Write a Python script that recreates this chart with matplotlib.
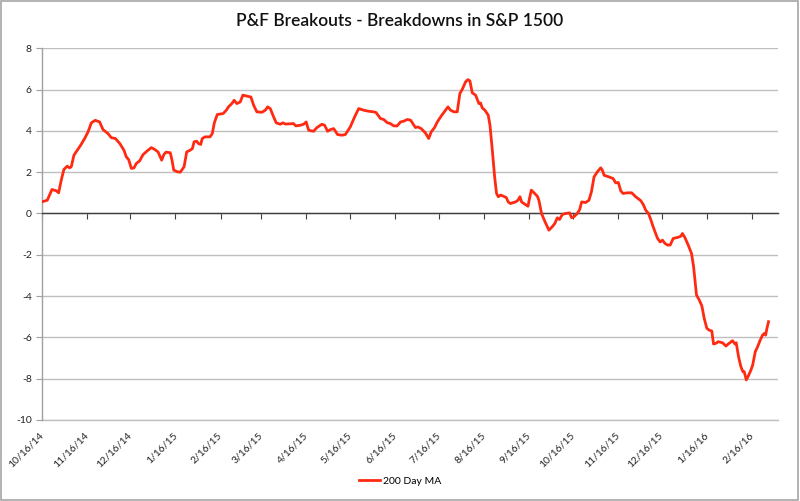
import numpy as np
import pandas as pd
import matplotlib
matplotlib.use('Agg')
import matplotlib.pyplot as plt
from matplotlib.patches import Rectangle

plt.rcParams['font.family'] = ['Lato', 'DejaVu Sans']

C_LINE = '#FF2A12'
C_GRID = '#C0C0C0'
C_AXIS = '#3F3F3F'

# series: days since 10/16/14 and 200 day MA value
start = pd.Timestamp('2014-10-16')
day_offset = [
    0, 3.9, 7.1, 10.1, 11.7, 13.5, 15.3, 17.6, 19.2, 20.4, 22.2, 24.5, 26.8, 29.6,
    31.9, 34.2, 36.9, 39.9, 42.2, 45.6, 47.9, 50.7, 53.7, 56.6, 58.2, 59.8, 61.7,
    63.5, 65.1, 67.4, 69.7, 73.1, 75.4, 77.7, 80.0, 82.5, 84.0, 85.5, 88.4, 89.6,
    90.8, 93.2, 95.3, 97.9, 99.7, 102.0, 103.6, 104.8, 106.6, 107.7, 109.3, 110.4,
    112.3, 115.7, 117.3, 118.7, 120.7, 124.8, 126.9, 128.4, 130.7, 132.3, 134.2,
    136.5, 138.3, 140.6, 143.8, 145.7, 147.9, 151.4, 153.7, 155.3, 157.1, 159.4,
    161.2, 164.0, 165.8, 167.4, 173.1, 174.7, 177.7, 180.0, 181.8, 183.5, 186.9,
    189.2, 192.6, 194.5, 196.5, 198.4, 200.7, 203.4, 206.4, 208.7, 212.1, 215.1,
    217.9, 221.3, 224.7, 228.2, 229.8, 232.8, 235.1, 237.4, 239.7, 242.0, 244.3,
    246.6, 248.9, 251.2, 253.5, 255.1, 256.9, 258.5, 260.8, 263.7, 266.0, 267.7,
    270.0, 271.9, 274.5, 277.5, 279.2, 281.0, 283.3, 285.6, 287.4, 289.0, 291.3,
    292.9, 294.3, 295.9, 298.2, 300.5, 301.6, 302.8, 304.6, 306.9, 308.1, 309.7,
    311.3, 312.6, 313.8, 315.4, 317.2, 319.3, 320.6, 322.2, 323.8, 325.7, 327.3,
    328.7, 329.8, 331.4, 334.2, 335.5, 336.5, 338.3, 340.6, 341.7, 343.5, 345.9,
    348.6, 350.9, 352.7, 354.3, 355.9, 357.8, 360.1, 362.8, 364.2, 365.8, 368.1,
    369.7, 371.1, 373.8, 376.1, 377.8, 379.6, 381.9, 384.2, 385.3, 386.5, 389.9,
    392.7, 394.5, 396.3, 397.9, 399.5, 402.5, 405.5, 408.2, 411.7, 413.3, 415.1,
    417.0, 418.6, 420.0, 421.5, 423.2, 425.0, 426.6, 428.3, 430.1, 431.9, 434.0,
    437.0, 439.3, 440.3, 442.0, 444.3, 446.6, 448.0, 449.1, 450.0, 451.9, 453.7,
    455.3, 457.1, 458.7, 460.5, 461.7, 463.3, 464.9, 467.9, 470.2, 471.8, 474.8,
    476.4, 477.3, 478.9, 480.5, 481.9, 482.8, 484.2, 485.6, 487.4, 488.6, 490.4,
    492.0, 493.8, 495.4, 496.6, 497.5, 498.4, 499.5,
]
ma200 = [
    0.56, 0.64, 1.16, 1.10, 1.00, 1.61, 2.13, 2.29, 2.21, 2.26, 2.82, 3.06, 3.30, 3.63,
    3.95, 4.39, 4.51, 4.43, 4.06, 3.87, 3.67, 3.63, 3.39, 3.06, 2.74, 2.61, 2.18,
    2.21, 2.42, 2.55, 2.85, 3.06, 3.19, 3.10, 2.98, 2.58, 2.85, 2.97, 2.94, 2.58,
    2.10, 2.02, 2.00, 2.26, 2.98, 3.06, 3.14, 3.47, 3.50, 3.39, 3.34, 3.63,
    3.71, 3.71, 3.87, 4.39, 4.79, 4.84, 5.00, 5.16, 5.32, 5.48, 5.32,
    5.40, 5.73, 5.69, 5.64, 5.24, 4.92, 4.90, 5.00, 5.16, 5.08, 4.68,
    4.39, 4.32, 4.39, 4.33, 4.35, 4.24, 4.27, 4.32, 4.43, 4.03, 3.98,
    4.16, 4.32, 4.27, 3.98, 4.06, 4.11, 3.82, 3.79, 3.82, 4.19, 4.68,
    5.08, 5.00, 4.95, 4.92, 4.89, 4.60, 4.55, 4.40, 4.35, 4.24, 4.24,
    4.43, 4.47, 4.55, 4.52, 4.35, 4.16, 4.19, 4.11, 3.90, 3.63, 3.95,
    4.16, 4.43, 4.71, 5.00, 5.16, 5.00, 4.92, 4.92, 5.81, 6.00, 6.37,
    6.48, 6.42, 5.84, 5.73, 5.32, 5.35, 5.11, 5.00, 4.76, 4.27, 3.06,
    1.77, 0.97, 0.81, 0.89, 0.84, 0.77, 0.56, 0.48, 0.52, 0.56, 0.64,
    0.81, 0.56, 0.48, 0.35, 0.81, 1.13, 1.00, 0.84, 0.64, 0.00, -0.40,
    -0.81, -0.64, -0.48, -0.21, -0.29, -0.05, 0.00, 0.03, -0.21, -0.16, 0.00,
    0.19, 0.56, 0.53, 0.64, 1.05, 1.77, 2.02, 2.21, 2.10, 1.85, 1.77,
    1.69, 1.48, 1.50, 1.10, 0.97, 1.00, 1.00, 0.81, 0.62, 0.45, 0.16,
    0.00, -0.30, -0.60, -0.89, -1.20, -1.38, -1.29, -1.45, -1.53, -1.53, -1.21,
    -1.16, -1.10, -0.97, -1.16, -1.53, -1.94, -2.58, -3.31, -3.95, -4.19, -4.48,
    -5.08, -5.56, -5.65, -5.69, -6.32, -6.29, -6.21, -6.26, -6.42, -6.32, -6.16,
    -6.32, -6.26, -6.94, -7.42, -7.66, -7.66, -8.06, -7.87, -7.58, -7.34, -6.69,
    -6.45, -6.13, -5.89, -5.81, -5.89, -5.56, -5.24,
]

tick_labels = ['10/16/14', '11/16/14', '12/16/14', '1/16/15', '2/16/15', '3/16/15',
               '4/16/15', '5/16/15', '6/16/15', '7/16/15', '8/16/15', '9/16/15',
               '10/16/15', '11/16/15', '12/16/15', '1/16/16', '2/16/16']
tick_days = [(d - start).days for d in pd.to_datetime(tick_labels, format='%m/%d/%y')]
y_ticks = list(range(-10, 9, 2))

fig = plt.figure(figsize=(8, 5.01), dpi=100)
ax = fig.add_axes([0.052, 0.1617, 0.9205, 0.742])

ax.plot(day_offset, ma200, color=C_LINE, linewidth=2.0, label='200 Day MA',
        solid_joinstyle='round', zorder=3)

ax.set_xlim(0, 506)
ax.set_ylim(-10, 8)
ax.set_yticks(y_ticks)
ax.set_yticklabels([str(v) for v in y_ticks])
ax.grid(axis='y', color=C_GRID, linewidth=1.0)
ax.set_axisbelow(True)
ax.tick_params(axis='y', length=4, color='#A0A0A0', labelsize=7.5, pad=3,
               labelcolor='#222222')

for s in ['top', 'right']:
    ax.spines[s].set_visible(False)
ax.spines['left'].set_color('#A0A0A0')
ax.spines['left'].set_linewidth(1.0)

# x axis crosses at zero, labels stay at the bottom
ax.spines['bottom'].set_position(('data', 0))
ax.spines['bottom'].set_color(C_AXIS)
ax.spines['bottom'].set_linewidth(1.0)
ax.set_xticks(tick_days)
ax.tick_params(axis='x', direction='out', length=4, color=C_AXIS, labelbottom=False)

sec = ax.secondary_xaxis(0)
sec.set_xticks(tick_days)
sec.set_xticklabels(tick_labels, rotation=45, ha='right', va='center',
                    rotation_mode='anchor', fontsize=7.5, color='#222222')
sec.tick_params(axis='x', length=0, pad=10)
sec.spines['bottom'].set_color(C_GRID)
sec.spines['bottom'].set_linewidth(1.0)

fig.suptitle('P&F Breakouts - Breakdowns in S&P 1500', y=0.975, fontsize=12.5,
             fontweight='semibold', color='#111111')

fig.legend(loc='lower center', bbox_to_anchor=(0.5, 0.012), frameon=False,
           fontsize=7.5, handlelength=2.0, handletextpad=0.3)

fig.patches.append(Rectangle((0.001, 0.001), 0.996, 0.997, transform=fig.transFigure,
                             fill=False, edgecolor='#A6A6A6', linewidth=1.2))

plt.savefig('out.png', dpi=100)
